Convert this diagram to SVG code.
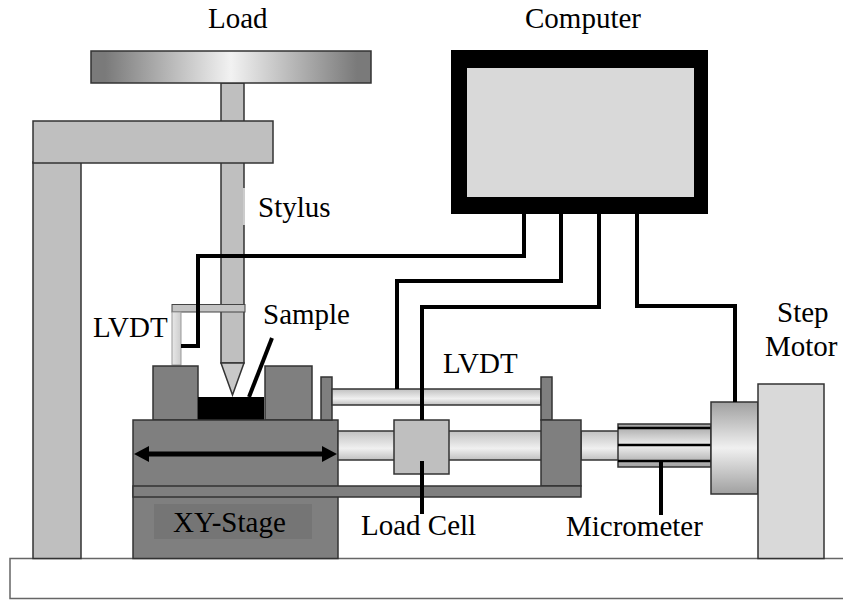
<svg xmlns="http://www.w3.org/2000/svg" width="844" height="600" viewBox="0 0 844 600">
<defs>
<linearGradient id="h" x1="0" y1="0" x2="1" y2="0"><stop offset="0" stop-color="#7a7a7a"/><stop offset="0.05" stop-color="#7a7a7a"/><stop offset="0.5" stop-color="#f2f2f2"/><stop offset="0.95" stop-color="#7a7a7a"/><stop offset="1" stop-color="#7a7a7a"/></linearGradient>
<linearGradient id="v" x1="0" y1="0" x2="0" y2="1"><stop offset="0" stop-color="#c0c0c0"/><stop offset="0.6" stop-color="#f0f0f0"/><stop offset="1" stop-color="#c0c0c0"/></linearGradient>
<linearGradient id="m" x1="0" y1="0" x2="0" y2="1"><stop offset="0" stop-color="#a0a0a0"/><stop offset="0.5" stop-color="#f0f0f0"/><stop offset="1" stop-color="#a0a0a0"/></linearGradient>
<linearGradient id="lv" x1="0" y1="0" x2="1" y2="0"><stop offset="0" stop-color="#e8e8e8"/><stop offset="1" stop-color="#ccc"/></linearGradient>
</defs>
<style>
.o{stroke:#333;stroke-width:1.5}
.lg{fill:#bfbfbf}
.dg{fill:#7f7f7f}
.w{fill:none;stroke:#000;stroke-width:4}
text{font-family:"Liberation Serif","Times New Roman",serif;font-size:29px;fill:#000}
</style>
<g id="base"><path d="M843 558.500H10V598.500H843" fill="#fff" stroke="#666" stroke-width="1.500"/></g>
<g id="frame">
<rect class="o lg" x="33" y="162" width="48" height="396.500"/>
</g>
<g id="stylus">
<rect class="o lg" x="221" y="83" width="23" height="280"/>
<path class="o" d="M221 363H244L232.500 395Z" fill="#c8c8c8"/>
<rect x="243" y="188" width="2" height="37" fill="#ccc"/>
</g>
<g id="beam"><rect class="o lg" x="33" y="121" width="240" height="42"/></g>
<g id="load"><rect class="o" x="91" y="51" width="280" height="32" fill="url(#h)"/><text x="208" y="28">Load</text></g>
<g id="computer"><rect x="451" y="50" width="257" height="164" fill="#000"/><rect x="467" y="68" width="227" height="129" fill="#d9d9d9"/><text x="525" y="28">Computer</text></g>
<g id="lvdt-left">
<rect x="172" y="304.500" width="73" height="7.500" fill="#c4c4c4" stroke="#444"/>
<rect x="172" y="312" width="9" height="53" fill="url(#lv)" stroke="#999"/>
<text x="93" y="337">LVDT</text>
</g>
<g id="stage">
<rect class="o dg" x="153" y="366" width="45" height="54"/>
<rect class="o dg" x="265" y="366" width="47" height="54"/>
<rect x="198" y="397" width="66" height="23" fill="#000"/>
<rect class="o dg" x="133" y="420" width="205" height="138.500"/>
<rect x="154" y="504" width="158" height="35" fill="#757575"/>
<rect class="o dg" x="321" y="377" width="11" height="43"/>
<text x="173" y="532">XY-Stage</text>
</g>
<g id="rods">
<rect class="o" x="332" y="389" width="209" height="16" fill="url(#v)"/>
<rect class="o" x="338" y="431" width="204" height="29" fill="url(#v)"/>
<rect class="o" x="581" y="431" width="38" height="29" fill="url(#v)"/>
<rect class="o dg" x="541" y="377" width="11" height="43"/>
<rect class="o dg" x="541" y="420" width="40" height="66"/>
<rect class="o dg" x="133" y="486" width="448" height="11"/>
</g>
<g id="loadcell"><rect class="o lg" x="394" y="420" width="55" height="54"/><text x="361" y="535">Load Cell</text></g>
<g id="micrometer"><rect class="o" x="618" y="424" width="93" height="43" fill="url(#m)"/><path d="M618 428H711M618 445H711M618 461H711" stroke="#000" stroke-width="2.500" fill="none"/><text x="566" y="536">Micrometer</text></g>
<g id="motor">
<rect class="o" x="711" y="402" width="47" height="92" fill="url(#m)"/>
<rect class="o" x="758" y="384" width="66" height="174.500" fill="#d9d9d9"/>
<text x="777" y="322">Step</text><text x="765" y="356">Motor</text>
</g>
<g id="connectors">
<path class="w" d="M524 214V256H198V346H181"/>
<path class="w" d="M561 214V281H397V389"/>
<path class="w" d="M599 214V307H422V420"/>
<path class="w" d="M637 214V306H735V402"/>
<path class="w" d="M422 461V514"/>
<path class="w" d="M661 461V515"/>
<path class="w" d="M272 338L249 397"/>
<path d="M149 454H322" stroke="#000" stroke-width="5" fill="none"/>
<path d="M134 454L149 446V462ZM337 454L322 446V462Z" fill="#000"/>
</g>
<g id="labels">
<text x="258" y="217">Stylus</text>
<text x="263" y="324">Sample</text>
<text x="443" y="373">LVDT</text>
</g>
</svg>
